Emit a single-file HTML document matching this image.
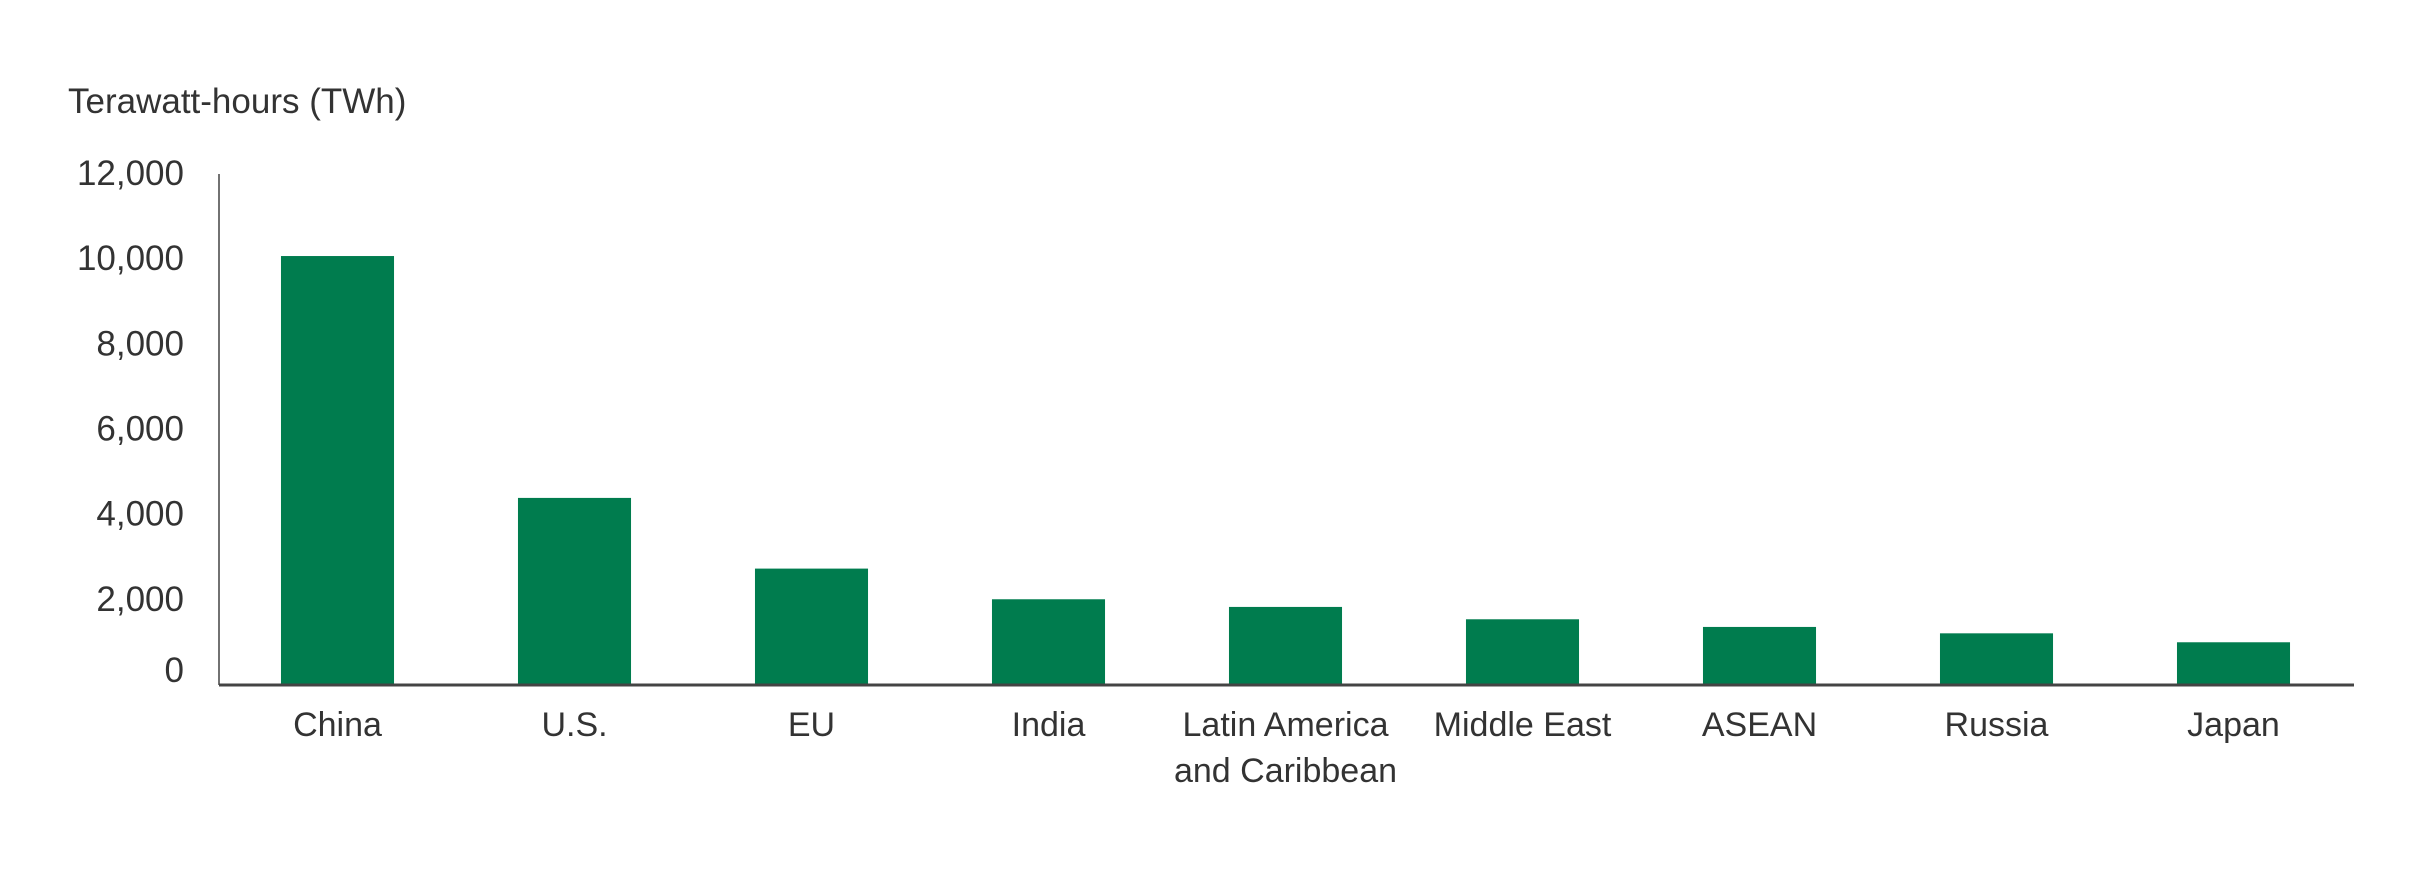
<!DOCTYPE html>
<html><head><meta charset="utf-8"><style>
html,body{margin:0;padding:0;background:#fff;}
svg text{font-family:"Liberation Sans",sans-serif;fill:#333;}
</style></head><body>
<svg id="chart" width="2433" height="875" viewBox="0 0 2433 875" xmlns="http://www.w3.org/2000/svg">
<text x="68" y="113" font-size="35">Terawatt-hours (TWh)</text>
<g id="yticks"></g>
<g id="bars"></g>
<g id="xlabels"></g>
<line x1="219" y1="174" x2="219" y2="685" stroke="#444" stroke-width="1.5"/>
<line x1="219" y1="685" x2="2354" y2="685" stroke="#444" stroke-width="3"/>
</svg>
<script>
const categories = [["China"],["U.S."],["EU"],["India"],["Latin America","and Caribbean"],["Middle East"],["ASEAN"],["Russia"],["Japan"]];
const values = [10050, 4370, 2710, 1990, 1810, 1520, 1340, 1190, 980];
const tickValues = [0, 2000, 4000, 6000, 8000, 10000, 12000];
const tickLabels = ["0","2,000","4,000","6,000","8,000","10,000","12,000"];

const NS="http://www.w3.org/2000/svg";
const x0=219, x1=2352, y0=684, yTop=173, vMax=12000;
const band=(x1-x0)/categories.length, barW=band*0.477;
function y(v){return y0-(v/vMax)*(y0-yTop);}
function xc(i){return x0+(i+0.5)*band;}
const barsG=document.getElementById('bars'), labG=document.getElementById('xlabels'), tickG=document.getElementById('yticks');
tickValues.forEach((t,i)=>{
  const el=document.createElementNS(NS,'text');
  
  
  el.setAttribute('x',184);
  el.setAttribute('y',i===0? y(t)-2 : y(t)+12);
  el.setAttribute('text-anchor','end');
  el.setAttribute('font-size','35');
  el.textContent=tickLabels[i];
  tickG.appendChild(el);
});
values.forEach((v,i)=>{
  const r=document.createElementNS(NS,'rect');
  
  
  r.setAttribute('x',xc(i)-barW/2);
  r.setAttribute('y',y(v));
  r.setAttribute('width',barW);
  r.setAttribute('height',y0-y(v));
  r.setAttribute('fill','#007c4e');
  barsG.appendChild(r);
  categories[i].forEach((line,j)=>{
    const t=document.createElementNS(NS,'text');
    
    
    t.setAttribute('x',xc(i));
    t.setAttribute('y',736+j*46);
    t.setAttribute('text-anchor','middle');
    t.setAttribute('font-size','34');
    t.textContent=line;
    labG.appendChild(t);
  });
});
</script>
</body></html>
